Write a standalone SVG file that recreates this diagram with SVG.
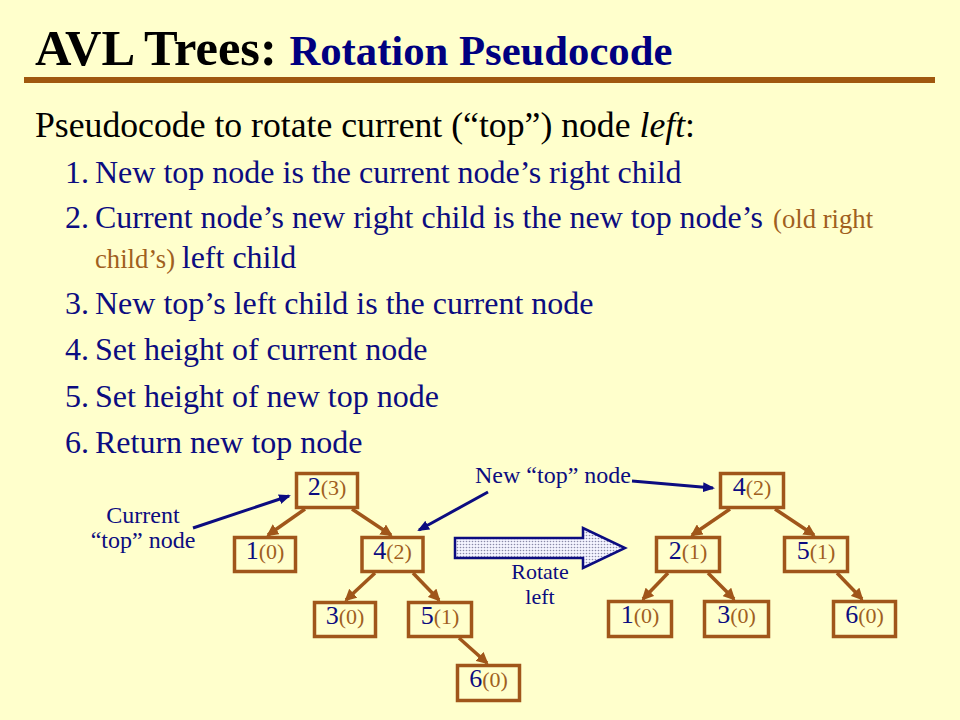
<svg xmlns="http://www.w3.org/2000/svg" width="960" height="720" viewBox="0 0 960 720">
<style>
text{font-family:"Liberation Serif","Times New Roman",serif}
.navy{fill:#0c0c80}
.brown{fill:#a0601e}
.item{font-size:32px;fill:#0c0c80}
.node rect{fill:#ffffcc;stroke:#a0561a;stroke-width:3.5}
.node text{text-anchor:middle}
.k{font-size:26px;fill:#0c0c80}
.h{font-size:22px;fill:#a0601e}
.edge{stroke:#a0561a;stroke-width:3.5;fill:none;marker-end:url(#bh)}
.call{stroke:#0c0c80;stroke-width:3;fill:none;marker-end:url(#nh)}
.lbl{font-size:24px;fill:#0c0c80}
</style>
<defs>
<marker id="bh" markerUnits="userSpaceOnUse" viewBox="0 0 12 12" refX="10" refY="6" markerWidth="12" markerHeight="12" orient="auto">
<path d="M0,0 L12,6 L0,12 z" fill="#a0561a"/>
</marker>
<marker id="nh" markerUnits="userSpaceOnUse" viewBox="0 0 12 10" refX="10" refY="5" markerWidth="12" markerHeight="10" orient="auto">
<path d="M0,0 L12,5 L0,10 z" fill="#0c0c80"/>
</marker>
<pattern id="dots" patternUnits="userSpaceOnUse" width="3" height="3">
<rect width="3" height="3" fill="#f4f4ff"/>
<circle cx="1.5" cy="1.5" r="0.8" fill="#8a8aa8"/>
</pattern>
</defs>
<rect width="960" height="720" fill="#ffffcc"/>

<g id="title">
<text x="35" y="65" font-weight="bold" font-size="50.5" fill="#000">AVL Trees: <tspan font-size="42.7" fill="#000080">Rotation Pseudocode</tspan></text>
<rect x="24" y="77" width="911" height="6" fill="#a0580f"/>
</g>

<g id="body">
<text x="35" y="137" font-size="35.7" fill="#000">Pseudocode to rotate current (“top”) node <tspan font-style="italic">left</tspan>:</text>
<text x="65" y="183" class="item">1.</text>
<text x="95" y="183" class="item">New top node is the current node’s right child</text>
<text x="65" y="228" class="item">2.</text>
<text x="95" y="228" class="item" textLength="668" lengthAdjust="spacingAndGlyphs">Current node’s new right child is the new top node’s</text>
<text x="773" y="228" font-size="26.7" class="brown">(old right</text>
<text x="95" y="268" font-size="26.7" class="brown">child’s) <tspan class="item">left child</tspan></text>
<text x="65" y="314" class="item">3.</text>
<text x="95" y="314" class="item">New top’s left child is the current node</text>
<text x="65" y="360" class="item">4.</text>
<text x="95" y="360" class="item">Set height of current node</text>
<text x="65" y="407" class="item">5.</text>
<text x="95" y="407" class="item">Set height of new top node</text>
<text x="65" y="453" class="item">6.</text>
<text x="95" y="453" class="item">Return new top node</text>
</g>

<g id="connectors">
<line class="edge" x1="305" y1="509" x2="268" y2="535"/>
<line class="edge" x1="352" y1="509" x2="391" y2="535"/>
<line class="edge" x1="375" y1="573" x2="346" y2="600"/>
<line class="edge" x1="413" y1="573" x2="439" y2="600"/>
<line class="edge" x1="459" y1="638" x2="487" y2="663"/>
<line class="edge" x1="730" y1="509" x2="692" y2="535"/>
<line class="edge" x1="775" y1="509" x2="814" y2="535"/>
<line class="edge" x1="668" y1="573" x2="643" y2="599"/>
<line class="edge" x1="708" y1="573" x2="734" y2="599"/>
<line class="edge" x1="837" y1="573" x2="862" y2="599"/>
<line class="call" x1="193" y1="528" x2="289" y2="496"/>
<line class="call" x1="488" y1="492" x2="419" y2="530"/>
<line class="call" x1="632" y1="481" x2="713" y2="488"/>
</g>

<g id="callout-current">
<text x="143" y="523" text-anchor="middle" class="lbl">Current</text>
<text x="143" y="548" text-anchor="middle" class="lbl">“top” node</text>
</g>
<g id="callout-newtop">
<text x="475" y="483" class="lbl">New “top” node</text>
</g>
<g id="rotate-arrow">
<path d="M455,538 L583,538 L583,528 L625,548 L583,568 L583,558 L455,558 z" fill="url(#dots)" stroke="#0c0c80" stroke-width="2.5" stroke-linejoin="miter"/>
<text x="540" y="579" text-anchor="middle" font-size="22" class="navy">Rotate</text>
<text x="540" y="604" text-anchor="middle" font-size="22" class="navy">left</text>
</g>

<g id="L2" class="node"><rect x="296.5" y="473.5" width="61" height="34"/><text x="327" y="495"><tspan class="k">2</tspan><tspan class="h">(3)</tspan></text></g>
<g id="L1" class="node"><rect x="234.5" y="537.5" width="61" height="34"/><text x="265" y="559"><tspan class="k">1</tspan><tspan class="h">(0)</tspan></text></g>
<g id="L4" class="node"><rect x="362" y="537.5" width="61" height="34"/><text x="392.5" y="559"><tspan class="k">4</tspan><tspan class="h">(2)</tspan></text></g>
<g id="L3" class="node"><rect x="314.5" y="602.5" width="61" height="34"/><text x="345" y="624"><tspan class="k">3</tspan><tspan class="h">(0)</tspan></text></g>
<g id="L5" class="node"><rect x="408.5" y="602.5" width="63" height="34"/><text x="440" y="624"><tspan class="k">5</tspan><tspan class="h">(1)</tspan></text></g>
<g id="L6" class="node"><rect x="457.5" y="665.5" width="62" height="35"/><text x="488.5" y="687"><tspan class="k">6</tspan><tspan class="h">(0)</tspan></text></g>

<g id="R4" class="node"><rect x="720.5" y="473.5" width="63" height="34"/><text x="752" y="495"><tspan class="k">4</tspan><tspan class="h">(2)</tspan></text></g>
<g id="R2" class="node"><rect x="656.5" y="537.5" width="63" height="34"/><text x="688" y="559"><tspan class="k">2</tspan><tspan class="h">(1)</tspan></text></g>
<g id="R5" class="node"><rect x="784.5" y="537.5" width="63" height="34"/><text x="816" y="559"><tspan class="k">5</tspan><tspan class="h">(1)</tspan></text></g>
<g id="R1" class="node"><rect x="608.5" y="601.5" width="63" height="35"/><text x="640" y="623"><tspan class="k">1</tspan><tspan class="h">(0)</tspan></text></g>
<g id="R3" class="node"><rect x="704.5" y="601.5" width="64" height="35"/><text x="736.5" y="623"><tspan class="k">3</tspan><tspan class="h">(0)</tspan></text></g>
<g id="R6" class="node"><rect x="833.5" y="601.5" width="62" height="35"/><text x="864.5" y="623"><tspan class="k">6</tspan><tspan class="h">(0)</tspan></text></g>
</svg>
